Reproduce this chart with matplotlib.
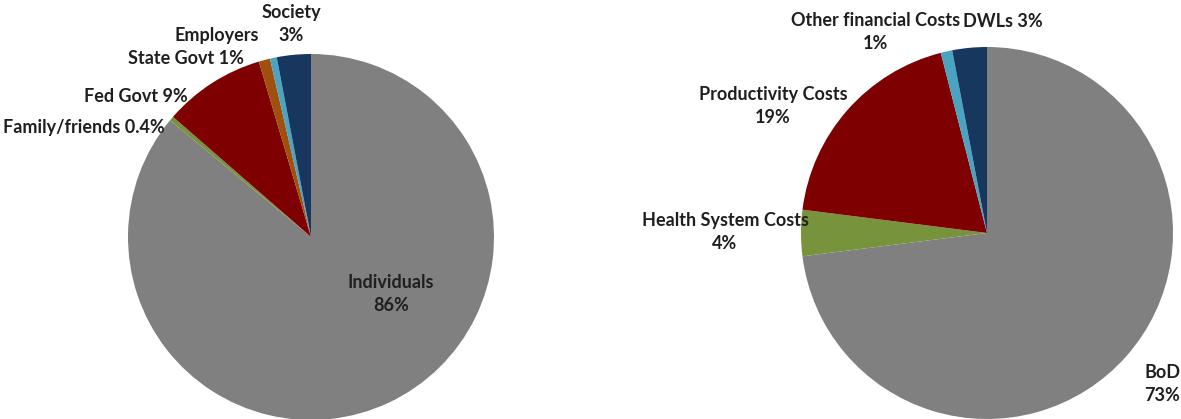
import matplotlib.pyplot as plt

plt.rcParams['font.family'] = ['Lato', 'DejaVu Sans']

# left pie: who bears the cost
payers = ['Individuals', 'Family/friends', 'Fed Govt', 'State Govt', 'Employers', 'Society']
payer_share = [86, 0.4, 9, 1, 0.6, 3]
payer_colors = ['#808080', '#77933c', '#7f0000', '#a0500e', '#4aa3c0', '#17375e']

# right pie: cost components
components = ['BoD', 'Health System Costs', 'Productivity Costs', 'Other financial Costs', 'DWLs']
component_share = [73, 4, 19, 1, 3]
component_colors = ['#808080', '#77933c', '#7f0000', '#4aa3c0', '#17375e']

W, H = 1181, 419
fig = plt.figure(figsize=(W / 100, H / 100), dpi=100)

def make_ax(cx, cy, r):
    return fig.add_axes([(cx - r) / W, (H - cy - r) / H, 2 * r / W, 2 * r / H])

def finish(ax):
    ax.set_xlim(-1, 1)
    ax.set_ylim(-1, 1)
    ax.set_aspect('equal')
    ax.axis('off')

txt = dict(fontsize=13, fontweight='bold', color='#1f1f1f', ha='center', va='center', linespacing=1.45)

# left
cx, cy, r = 311, 237, 183
ax1 = make_ax(cx, cy, r)
ax1.pie(payer_share, colors=payer_colors, startangle=90, counterclock=False,
        radius=1, wedgeprops=dict(linewidth=0))
finish(ax1)
left_labels = [
    ('Individuals\n86%', 391, 294),
    ('Family/friends 0.4%', 84, 127),
    ('Fed Govt 9%', 136, 97),
    ('State Govt 1%', 186, 59),
    ('Employers', 217, 36),
    ('Society\n3%', 291, 24),
]
for s, px, py in left_labels:
    ax1.text((px - cx) / r, (cy - py) / r, s, clip_on=False, **txt)

# right
cx, cy, r = 987, 233, 186
ax2 = make_ax(cx, cy, r)
ax2.pie(component_share, colors=component_colors, startangle=90, counterclock=False,
        radius=1, wedgeprops=dict(linewidth=0))
finish(ax2)
right_labels = [
    ('BoD\n73%', 1162, 384),
    ('Health System Costs\n4%', 725, 232),
    ('Productivity Costs\n19%', 773, 106),
    ('Other financial Costs\n1%', 876, 32),
    ('DWLs 3%', 1003, 22),
]
for s, px, py in right_labels:
    ax2.text((px - cx) / r, (cy - py) / r, s, clip_on=False, **txt)

fig.savefig('out.png', dpi=100)
